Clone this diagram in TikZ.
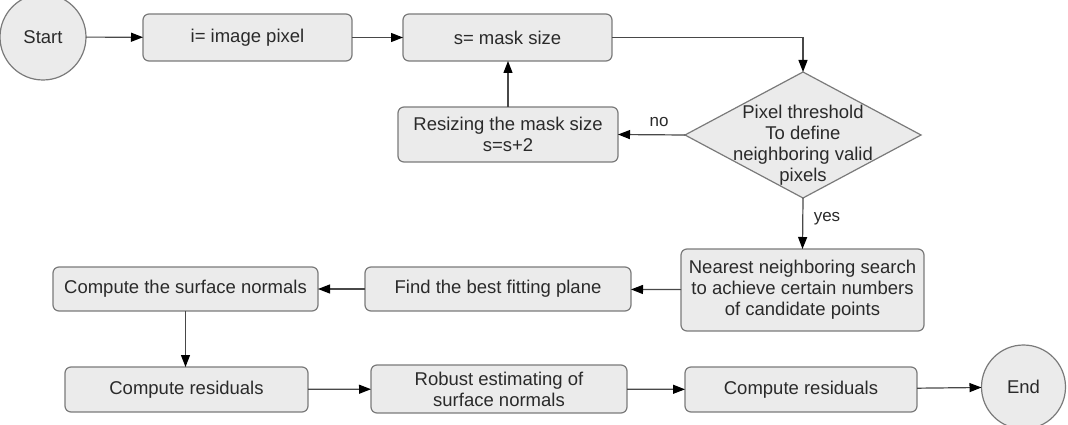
\documentclass[tikz,border=0pt]{standalone}
\usepackage{fontspec}
\setmainfont{Liberation Sans}
\usetikzlibrary{shapes.geometric,arrows.meta}
\definecolor{boxfill}{HTML}{EBEBEB}
\definecolor{boxline}{HTML}{7A7A7A}
\definecolor{txt}{HTML}{2A2A2A}
\definecolor{wire}{HTML}{484848}
\begin{document}
\begin{tikzpicture}[x=1pt,y=-1pt,
  font=\fontsize{18.5}{21}\selectfont,
  proc/.style={draw=boxline, fill=boxfill, rounded corners=6pt, line width=1.2pt,
    text=txt, align=center, inner sep=0pt, outer sep=0pt},
  terminal/.style={circle, draw=boxline, fill=boxfill, line width=1.2pt,
    text=txt, inner sep=0pt, outer sep=0pt},
  decision/.style={diamond, draw=boxline, fill=boxfill, line width=1.2pt,
    inner sep=0pt, outer sep=0pt},
  flow/.style={draw=wire, line width=1.2pt,
    -{Triangle[length=12pt,width=9pt,color=black,fill=black]}},
  tag/.style={text=txt, inner sep=0pt, font=\fontsize{17}{20}\selectfont}
]
\useasboundingbox (0,0) rectangle (1068,425);

% top row
\node[terminal, minimum size=86pt] (start) at (43,37) {Start};
\node[proc, minimum width=209pt, minimum height=47pt] (pix) at (247.5,37.5) {i= image pixel};
\node[proc, minimum width=209pt, minimum height=47pt] (mask) at (507.5,37.5) {s= mask size};

% decision and the resize loop
\node[decision, minimum width=236pt, minimum height=126pt] (dia) at (803,135) {};
\node[text=txt, align=center, inner sep=0pt] (diatext) at (803,145)
  {Pixel threshold\\To define\\neighboring valid\\pixels};
\node[proc, minimum width=220pt, minimum height=55pt] (resize) at (508,134.5)
  {Resizing the mask size\\s=s+2};

% middle row
\node[proc, minimum width=243pt, minimum height=82pt] (near) at (802.5,290)
  {Nearest neighboring search\\to achieve certain numbers\\of candidate points};
\node[proc, minimum width=266pt, minimum height=44pt] (fit) at (498,289) {Find the best fitting plane};
\node[proc, minimum width=265pt, minimum height=44pt] (normals) at (185.5,289) {Compute the surface normals};

% bottom row
\node[proc, minimum width=243pt, minimum height=45pt] (res1) at (186.5,389.5) {Compute residuals};
\node[proc, minimum width=256pt, minimum height=48pt] (robust) at (499,389)
  {Robust estimating of\\surface normals};
\node[proc, minimum width=232pt, minimum height=45pt] (res2) at (801,389.5) {Compute residuals};
\node[terminal, minimum size=84pt] (end) at (1023.5,387) {End};

% branch labels
\node[tag] (nolabel) at (659,122) {no};
\node[tag] (yeslabel) at (827,219) {yes};

% connectors
\draw[flow] (start) -- (pix);
\draw[flow] (pix) -- (mask);
\draw[flow] (mask.east) -| (dia.north);
\draw[flow] (dia.west) -- (resize.east);
\draw[flow] (resize.north) -- (resize.north |- mask.south);
\draw[flow] (dia.south) -- (near.north);
\draw[flow] (near) -- (fit);
\draw[flow] (fit) -- (normals);
\draw[flow] (normals.south) -- (normals.south |- res1.north);
\draw[flow] (res1) -- (robust);
\draw[flow] (robust) -- (res2);
\draw[flow] (res2) -- (end);
\end{tikzpicture}
\end{document}
